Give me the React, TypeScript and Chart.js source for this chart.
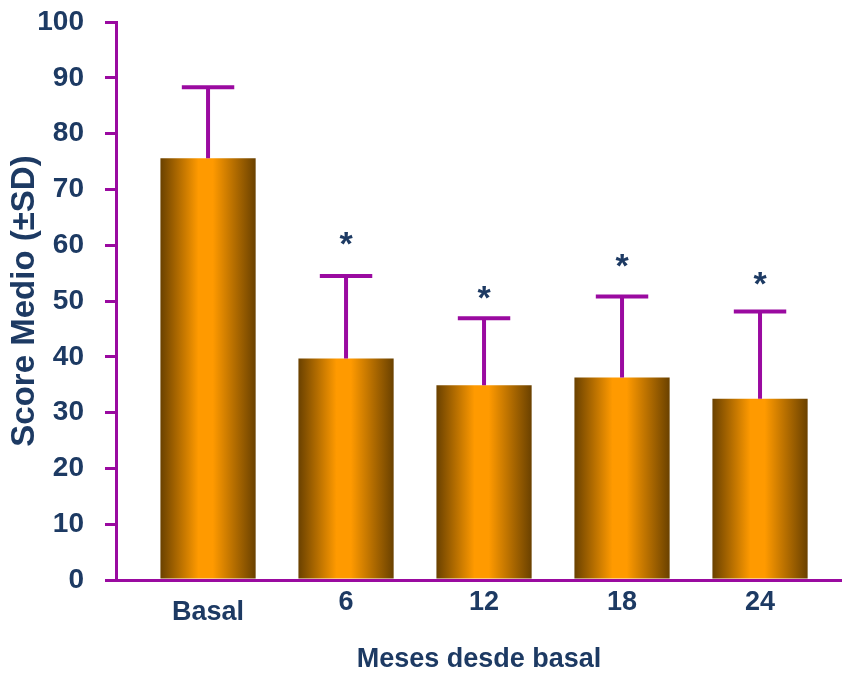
import React, { useEffect, useRef } from 'react';
import { Chart, registerables } from 'chart.js';

Chart.register(...registerables);

const categories = ['Basal', '6', '12', '18', '24'];
const means = [75.6, 39.7, 34.9, 36.3, 32.5];
const sd = [12.7, 14.8, 12.0, 14.5, 15.6];
const starPos: (number | null)[] = [null, 61.6, 52.0, 57.7, 54.5];

const PURPLE = '#9a0aa0';
const NAVY = '#1d3a63';
const FONT = '"Liberation Sans", Arial, Helvetica, sans-serif';

const errorBarPlugin = {
  id: 'errorBars',
  afterDatasetsDraw(chart: any) {
    const { ctx, scales } = chart;
    const x = scales.x;
    const y = scales.y;
    const step = x.getPixelForValue(1) - x.getPixelForValue(0);
    const capHalf = 0.19 * step;
    ctx.save();
    ctx.strokeStyle = PURPLE;
    ctx.lineWidth = 4;
    means.forEach((m, i) => {
      const px = x.getPixelForValue(i);
      const y0 = y.getPixelForValue(m);
      const y1 = y.getPixelForValue(m + sd[i]);
      ctx.beginPath();
      ctx.moveTo(px, y0);
      ctx.lineTo(px, y1);
      ctx.moveTo(px - capHalf, y1);
      ctx.lineTo(px + capHalf, y1);
      ctx.stroke();
    });
    const fs = 34;
    ctx.fillStyle = NAVY;
    ctx.font = `bold ${fs}px ${FONT}`;
    ctx.textAlign = 'center';
    ctx.textBaseline = 'alphabetic';
    starPos.forEach((v, i) => {
      if (v == null) return;
      const px = x.getPixelForValue(i);
      const py = y.getPixelForValue(v);
      ctx.fillText('*', px, py + 0.56 * fs);
    });
    ctx.restore();
  },
};

function barGradient(c: any) {
  const chart = c.chart;
  const xs = chart.scales && chart.scales.x;
  if (!xs || c.dataIndex === undefined) return '#ff9900';
  const center = xs.getPixelForValue(c.dataIndex);
  const step = xs.getPixelForValue(1) - xs.getPixelForValue(0);
  if (!isFinite(center) || !isFinite(step) || step <= 0) return '#ff9900';
  const half = 0.345 * step;
  const g = chart.ctx.createLinearGradient(center - half, 0, center + half, 0);
  g.addColorStop(0, '#6a4100');
  g.addColorStop(0.4, '#ff9a00');
  g.addColorStop(0.55, '#ff9a00');
  g.addColorStop(1, '#6a4100');
  return g;
}

export default function App() {
  const canvasRef = useRef<HTMLCanvasElement | null>(null);

  useEffect(() => {
    document.body.style.margin = '0';
    const canvas = canvasRef.current;
    if (!canvas) return;
    const chart = new Chart(canvas, {
      type: 'bar',
      data: {
        datasets: [
          {
            data: means.map((v, i) => ({ x: i, y: v })),
            backgroundColor: barGradient as any,
            borderWidth: 0,
            categoryPercentage: 1,
            barPercentage: 0.69,
          },
        ],
      },
      options: {
        animation: false,
        responsive: false,
        maintainAspectRatio: false,
        layout: { padding: { top: 22, right: 0, left: 0, bottom: 0 } },
        plugins: {
          legend: { display: false },
          tooltip: { enabled: false },
        },
        scales: {
          x: {
            type: 'linear',
            min: -0.667,
            max: 4.594,
            offset: false,
            z: 1,
            afterBuildTicks: (s: any) => {
              s.ticks = categories.map((_, i) => ({ value: i }));
            },
            ticks: {
              autoSkip: false,
              maxRotation: 0,
              padding: 6,
              color: NAVY,
              font: (c: any) => ({
                family: FONT,
                size: 27,
                weight: 'bold',
                lineHeight: c.index === 0 ? 1.94 : 1.2,
              }),
              callback: (v: any) => categories[v] ?? '',
            },
            grid: { display: false, drawTicks: false, offset: false },
            border: { display: true, color: PURPLE, width: 3 },
            title: {
              display: true,
              text: 'Meses desde basal',
              color: NAVY,
              font: { family: FONT, size: 27, weight: 'bold', lineHeight: 1 },
              padding: { top: 0, bottom: 0 },
            },
            afterFit: (s: any) => {
              s.height = 93;
              s.paddingLeft = 0;
              s.paddingRight = 0;
            },
          } as any,
          y: {
            min: 0,
            max: 100,
            ticks: {
              stepSize: 10,
              color: NAVY,
              padding: 21,
              font: { family: FONT, size: 28, weight: 'bold' },
            },
            grid: {
              drawOnChartArea: false,
              drawTicks: true,
              tickLength: 11,
              color: PURPLE,
              lineWidth: 3,
            },
            border: { display: true, color: PURPLE, width: 3 },
            title: {
              display: true,
              text: 'Score Medio (±SD)',
              color: NAVY,
              font: { family: FONT, size: 33, weight: 'bold', lineHeight: 1 },
              padding: { top: 8, bottom: 0 },
            },
            afterFit: (s: any) => {
              s.width = 116;
              s.paddingTop = 0;
              s.paddingBottom = 0;
            },
          } as any,
        },
      },
      plugins: [errorBarPlugin],
    });
    return () => chart.destroy();
  }, []);

  return (
    <div style={{ position: 'absolute', left: 0, top: 0, width: 842, height: 673, background: '#ffffff' }}>
      <canvas ref={canvasRef} width={842} height={673} style={{ width: 842, height: 673, display: 'block' }} />
    </div>
  );
}
